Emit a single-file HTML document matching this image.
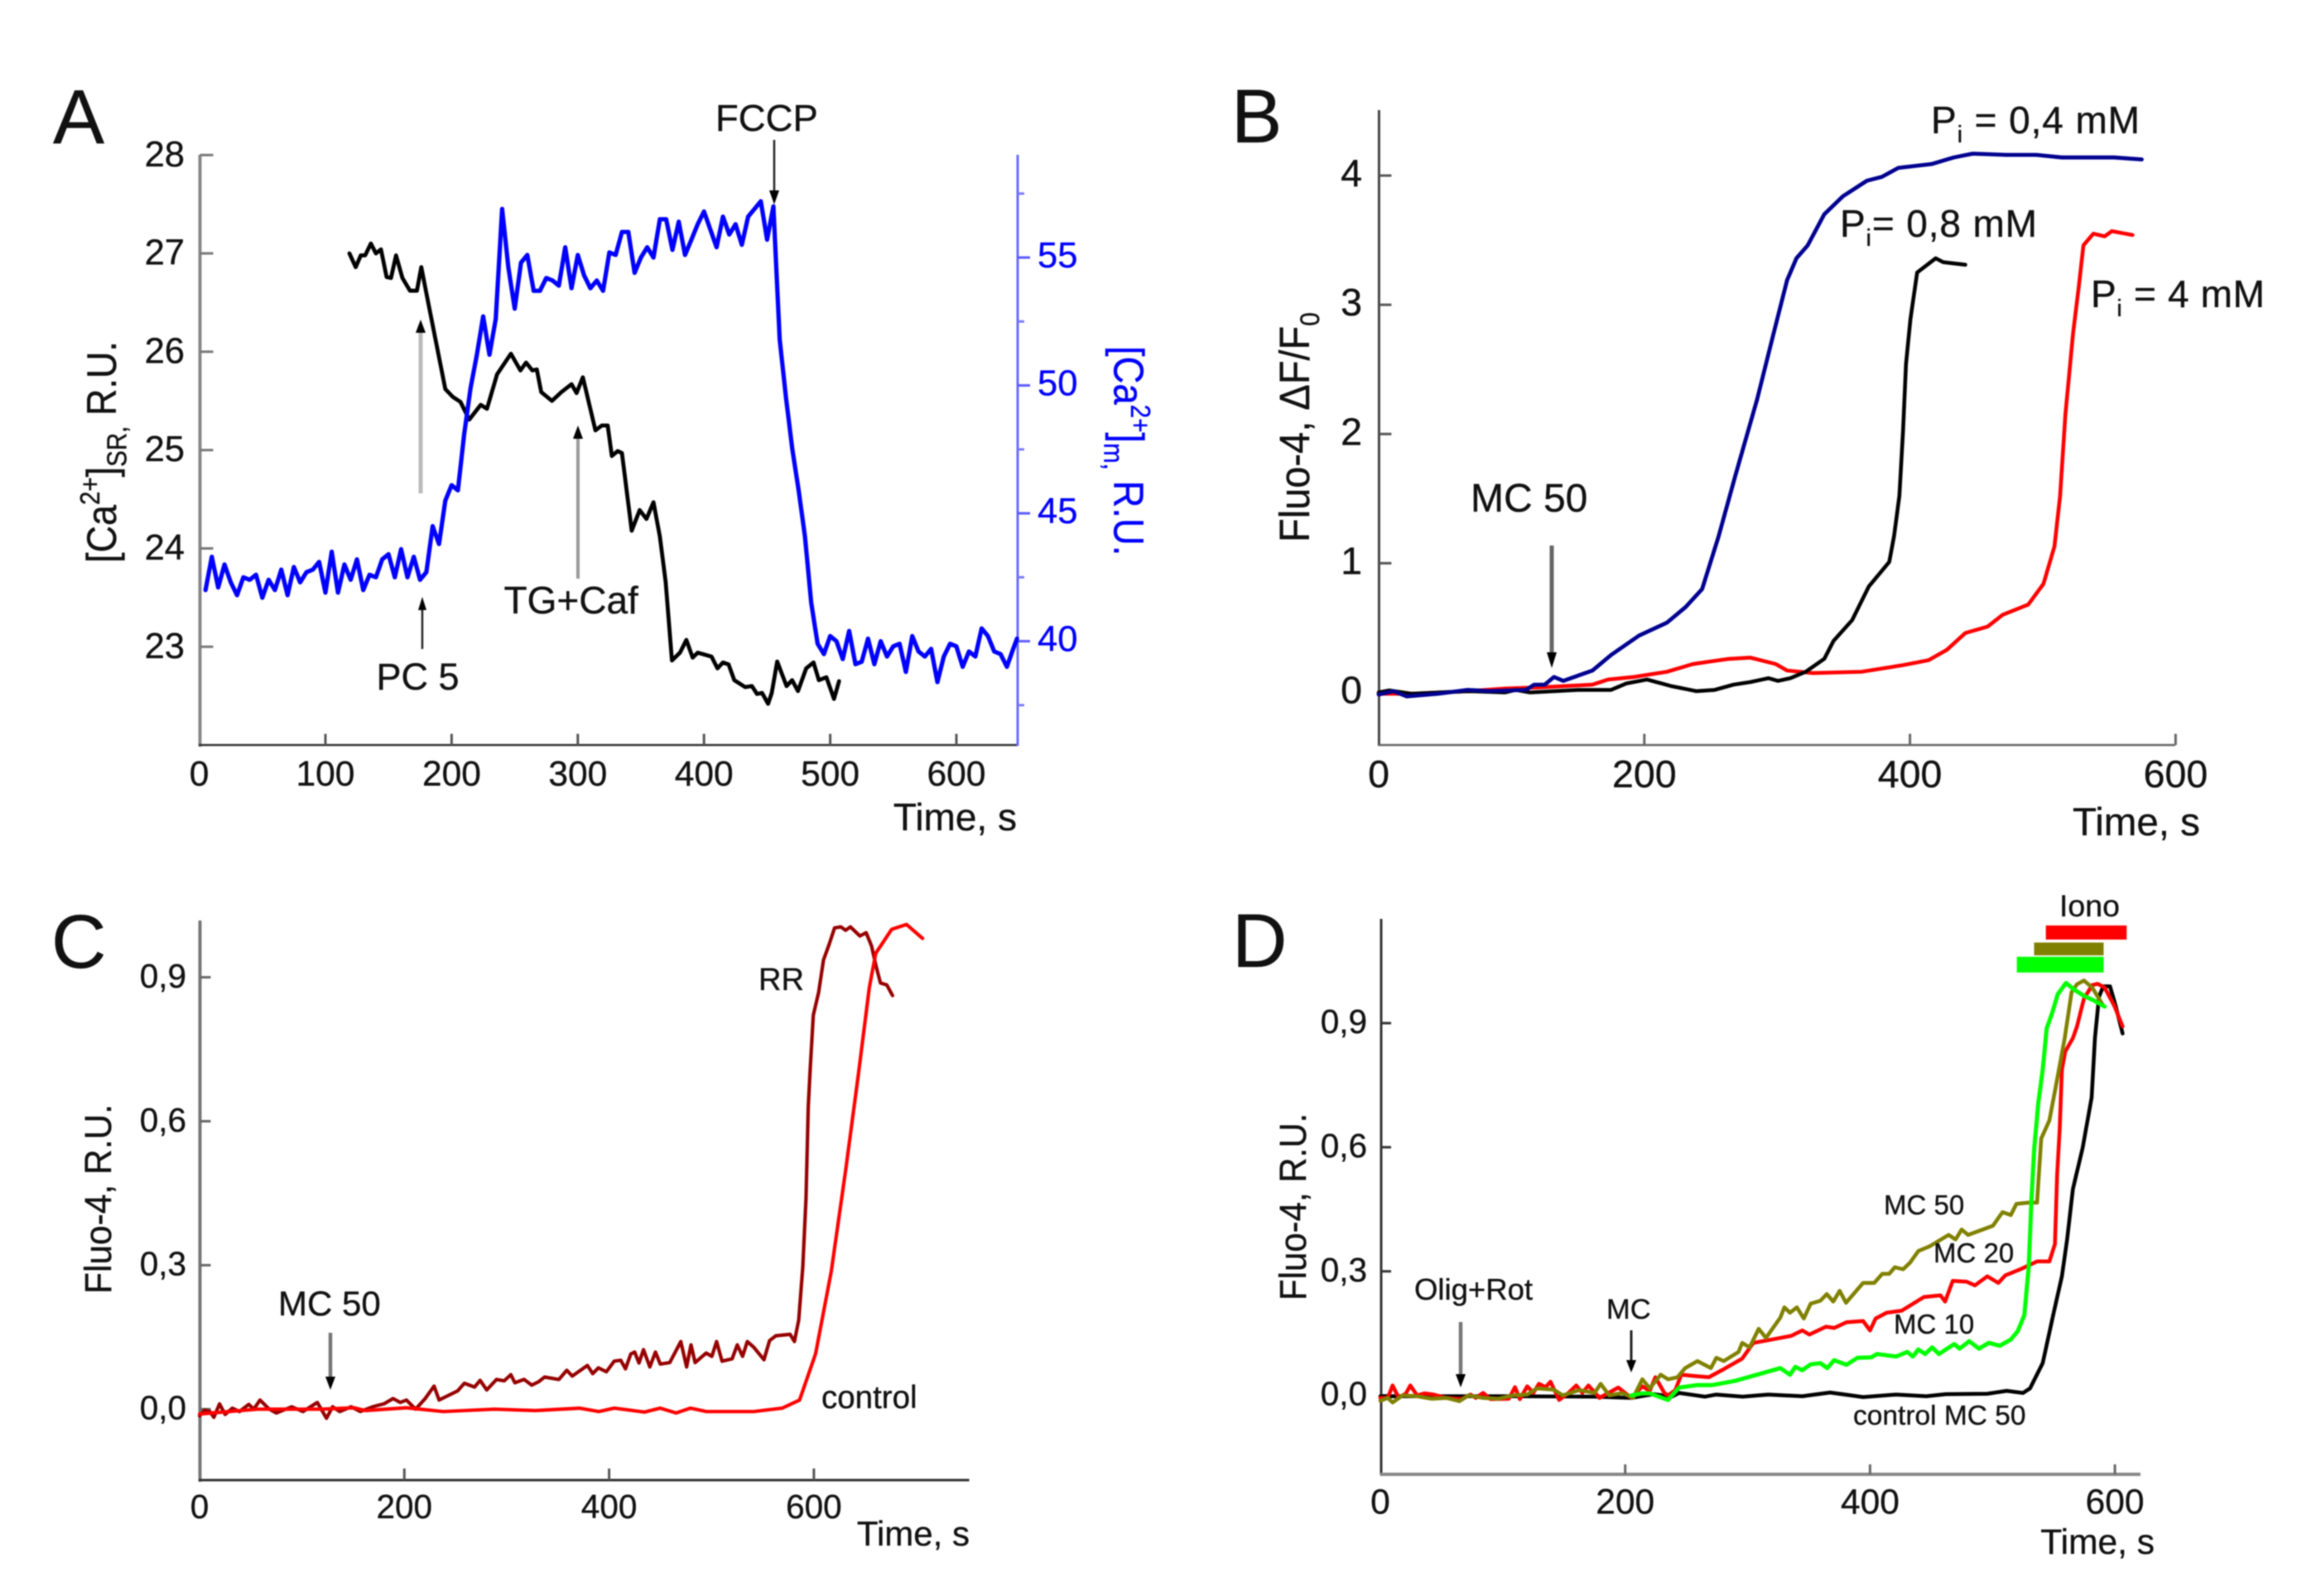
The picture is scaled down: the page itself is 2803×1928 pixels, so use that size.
<!DOCTYPE html>
<html lang="en">
<head>
<meta charset="utf-8">
<title>Calcium traces, panels A to D</title>
<style>
html,body{margin:0;padding:0;background:#fff;width:2803px;height:1928px;overflow:hidden}
svg{display:block;filter:blur(0.8px)}
text{font-family:"Liberation Sans",Arial,sans-serif;fill:#111;stroke:#111;stroke-width:0.35px}
</style>
</head>
<body>
<svg id="figure" xmlns="http://www.w3.org/2000/svg" width="2803" height="1928" viewBox="0 0 2803 1928">
<rect width="2803" height="1928" fill="#fff"/>

<text x="64" y="173" font-size="93">A</text>
<text x="1487" y="172" font-size="92">B</text>
<text x="62" y="1169" font-size="92">C</text>
<text x="1488" y="1168" font-size="92">D</text>

<g id="plots"></g>

<text transform="translate(140,680) rotate(-90) scale(1,1.12)" font-size="45">[Ca<tspan font-size="29.5" dy="-18">2+</tspan><tspan font-size="45" dy="18">]</tspan><tspan font-size="29.5" dy="11">SR,</tspan><tspan font-size="45" dy="-11"> R.U.</tspan></text>
<text transform="translate(1345.7,418) rotate(90) scale(1,1.12)" font-size="45.5" style="fill:#0000ff;stroke:#0000ff">[Ca<tspan font-size="29.5" dy="-18" style="fill:#0000ff;stroke:#0000ff">2+</tspan><tspan font-size="45.5" dy="18" style="fill:#0000ff;stroke:#0000ff">]</tspan><tspan font-size="29.5" dy="11" style="fill:#0000ff;stroke:#0000ff">m,</tspan><tspan font-size="45.5" dy="-11" style="fill:#0000ff;stroke:#0000ff"> R.U.</tspan></text>
<text x="1228" y="1003" font-size="46" text-anchor="end">Time, s</text>
<text x="864" y="158" font-size="45.5">FCCP</text>
<text x="608.5" y="741" font-size="46">TG+Caf</text>
<text x="454.5" y="833" font-size="45">PC 5</text>

<g><line x1="935" y1="169" x2="935" y2="232" stroke="#222" stroke-width="2.5"/><polygon points="929,230 941,230 935,247" fill="#000"/></g>
<g><line x1="698" y1="699" x2="698" y2="528" stroke="#999" stroke-width="4"/><polygon points="692,530 704,530 698,514" fill="#000"/></g>
<g><line x1="510" y1="784" x2="510" y2="735" stroke="#222" stroke-width="2.5"/><polygon points="505,737 515,737 510,721" fill="#000"/></g>
<g><line x1="508" y1="596" x2="508" y2="400" stroke="#bbb" stroke-width="5"/><polygon points="502,402 514,402 508,386" fill="#000"/></g>

<text transform="translate(1581,655) rotate(-90) scale(1,1.08)" font-size="47">Fluo-4, ΔF/F<tspan font-size="30" dy="11">0</tspan></text>
<text x="2503" y="1009" font-size="47.5">Time, s</text>
<text x="1776" y="618" font-size="48">MC 50</text>
<text x="2332" y="161" font-size="46" textLength="252">P<tspan font-size="29" dy="11">i</tspan><tspan dy="-11"> = 0,4 mM</tspan></text>
<text x="2222" y="286" font-size="46" textLength="238">P<tspan font-size="29" dy="11">i</tspan><tspan dy="-11">= 0,8 mM</tspan></text>
<text x="2525" y="371" font-size="46" textLength="210">P<tspan font-size="29" dy="11">i</tspan><tspan dy="-11"> = 4 mM</tspan></text>
<g><line x1="1874" y1="659" x2="1874" y2="790" stroke="#666" stroke-width="5"/><polygon points="1868,788 1880,788 1874,807" fill="#000"/></g>

<text transform="translate(134,1563) rotate(-90) scale(1,1.07)" font-size="42.5">Fluo-4, R.U.</text>
<text x="1171" y="1867" font-size="42" text-anchor="end">Time, s</text>
<text x="336" y="1589" font-size="42">MC 50</text>
<text x="916" y="1196" font-size="38">RR</text>
<text x="992" y="1701" font-size="38.5">control</text>
<g><line x1="399" y1="1610" x2="399" y2="1665" stroke="#777" stroke-width="4.5"/><polygon points="393,1663 405,1663 399,1679" fill="#000"/></g>

<text transform="translate(1577,1571) rotate(-90) scale(1,1.08)" font-size="42">Fluo-4, R.U.</text>
<text x="2602" y="1877" font-size="42.5" text-anchor="end">Time, s</text>
<text x="1708" y="1570" font-size="36.5">Olig+Rot</text>
<text x="1940" y="1593" font-size="34.5">MC</text>
<text x="2487" y="1107" font-size="37.5">Iono</text>
<text x="2275" y="1467" font-size="33">MC 50</text>
<text x="2335" y="1525" font-size="33">MC 20</text>
<text x="2287" y="1611" font-size="33">MC 10</text>
<text x="2238" y="1721" font-size="33.5">control MC 50</text>
<g><line x1="1764" y1="1597" x2="1764" y2="1662" stroke="#777" stroke-width="4.5"/><polygon points="1758,1660 1770,1660 1764,1676" fill="#000"/></g>
<g><line x1="1970" y1="1607" x2="1970" y2="1645" stroke="#222" stroke-width="3"/><polygon points="1964,1643 1976,1643 1970,1658" fill="#000"/></g>
</svg>

<script>
/* ---------- Panel A ---------- */
const aXTicks = [100, 200, 300, 400, 500, 600];
const aXLabels = [0, 100, 200, 300, 400, 500, 600];
const aLeftTicks = [23, 24, 25, 26, 27, 28];
const aRightTicks = [40, 45, 50, 55];
const aRightMinorTicks = [37.5, 42.5, 47.5, 52.5, 57.5];
const aBlueTime = [5,10,15,20,25,30,35,40,45,50,55,60,65,70,75,80,85,90,95,100,105,110,115,120,125,130,135,140,145,150,155,160,165,170,175,180,185,190,195,200,205,210,215,220,225,230,235,240,245,250,255,260,265,270,275,280,285,290,295,300,305,310,315,320,325,330,335,340,345,350,355,360,365,370,375,380,385,390,395,400,405,410,415,420,425,430,435,440,445,450,455,460,465,470,475,480,485,490,495,500,505,510,515,520,525,530,535,540,545,550,555,560,565,570,575,580,585,590,595,600,605,610,615,620,625,630,635,640,645,648];
const aBlueValues = [42.0,43.3,42.1,43.0,42.3,41.8,42.5,42.4,42.6,41.7,42.4,42.0,42.8,41.8,42.9,42.3,42.7,42.8,43.1,41.9,43.5,41.9,43.0,42.4,43.2,42.0,42.6,42.5,43.2,43.4,42.5,43.6,42.5,43.3,42.4,42.7,44.5,43.8,45.5,46.1,45.9,48.1,49.9,51.2,52.7,51.2,52.6,56.9,54.6,53.0,54.8,55.1,53.7,53.7,54.2,54.1,53.9,55.4,53.8,55.1,54.3,53.8,54.1,53.7,55.2,55.1,56.0,56.0,54.4,55.0,55.4,55.0,56.5,56.5,55.3,56.4,55.1,55.7,56.3,56.8,56.1,55.4,56.6,55.9,56.3,55.5,56.6,56.9,57.2,55.7,57.0,51.8,49.5,47.5,45.9,44.1,41.5,39.9,39.5,40.2,40.0,39.3,40.4,39.1,39.2,40.1,39.1,40.0,39.4,39.8,39.9,38.8,40.2,39.6,39.4,39.7,38.4,39.4,39.9,39.8,39.0,39.6,39.4,40.5,40.2,39.6,39.5,39.0,39.7,40.1];
const aBlackTime = [119,124,128,131.5,136,140,144,148.5,152,156,161,167,172.5,176,180.4,195,201,207,214,223,228,236,247,254.5,259,264,267.5,271,279.5,287,295,299,304,314,319,323.7,327,331.6,335,342.7,349,354.4,360,365,369.6,374.6,381,386,391,395,406,410.7,415,419.5,424,432.6,438,442,446,450.8,453.7,458,465.4,469.8,474.5,481,486.8,491,497,503,507];
const aBlackValues = [27.0,26.86,26.98,26.98,27.1,27.0,27.04,26.76,26.75,26.98,26.75,26.62,26.62,26.86,26.57,25.62,25.54,25.49,25.31,25.46,25.42,25.77,25.98,25.81,25.89,25.81,25.82,25.59,25.5,25.59,25.67,25.58,25.74,25.2,25.25,25.25,24.94,24.99,24.97,24.18,24.39,24.3,24.47,24.12,23.66,22.86,22.94,23.07,22.89,22.94,22.9,22.78,22.84,22.82,22.66,22.59,22.6,22.52,22.53,22.42,22.53,22.85,22.6,22.66,22.55,22.78,22.84,22.66,22.69,22.47,22.65];

/* ---------- Panel B ---------- */
const bXTicks = [200, 400, 600];
const bXLabels = [0, 200, 400, 600];
const bYTicks = [0, 1, 2, 3, 4];
const bBlueTime = [0,11,21,44.5,67,83.5,111,117,125,132,139,161,175,196,217,231,243.5,256,268.6,285,296.4,307.5,314.5,323,335.5,349.5,367.6,378.8,391.4,416.6,433,447.3,472.5,495,514.4,539.6,553.6,574.5];
const bBlueValues = [-0.016,0.01,-0.03,-0.01,0.02,0.01,0.02,0.06,0.06,0.12,0.09,0.17,0.29,0.44,0.54,0.66,0.80,1.21,1.68,2.27,2.74,3.19,3.36,3.46,3.70,3.84,3.96,3.99,4.06,4.09,4.14,4.17,4.16,4.16,4.14,4.14,4.14,4.125];
const bBlackTime = [0,8,25,67,95,103,114,150,175,186.5,202,220,239,253,267,279.6,293.6,300.6,310,321.5,335.5,342.5,356.5,369,384.4,388,392,394.8,397,400.4,405.4,419.4,425,441.7];
const bBlackValues = [0,0.016,-0.01,0.01,0,0.02,0,0.02,0.02,0.07,0.1,0.05,0.01,0.02,0.06,0.08,0.11,0.09,0.11,0.16,0.26,0.40,0.56,0.82,1.01,1.21,1.52,2.03,2.54,2.89,3.25,3.36,3.33,3.31];
const bRedTime = [0,28,67,95,122,161,172.6,192,217,236.6,250,264,279.6,299,307.5,327,363.5,394,414,427.8,441.7,458.5,469.7,489,500.5,508.8,513,517,522.8,527,530.6,538,546.6,552,567.5];
const bRedValues = [-0.01,-0.01,0.01,0.03,0.04,0.06,0.1,0.12,0.16,0.22,0.24,0.26,0.27,0.22,0.17,0.15,0.16,0.21,0.25,0.33,0.46,0.51,0.60,0.68,0.84,1.13,1.52,2.15,2.78,3.13,3.46,3.55,3.53,3.57,3.54];

/* ---------- Panel C ---------- */
const cXTicks = [200, 400, 600];
const cXLabels = [0, 200, 400, 600];
const cYTicks = [0, 0.3, 0.6, 0.9];
const cYLabels = ['0,0', '0,3', '0,6', '0,9'];
const cRRTime = [0,5,10,14,19.5,25,32,39,48,53,59,68,75,90,101,115,124,130,137,148,157,169,180,189,196,202,211,220,229,234,252,258.6,268.6,274,280.5,290,297.5,304,308,317,324.5,331,337,351,358.7,364,378.8,384,389.6,397.3,405,411.3,416,421.2,425,429.2,433.6,439.8,445.3,450,459.2,470,475.7,480,484,494.8,500.4,505,510.3,520.2,525.2,530.4,535,541.3,551.2,556.7,563,576.8,581,585.2,589.2,592.3,594.5,596.4,599.4,604.7,609.4,615,620.2,626.4,631,635.7,645,651,656.4,660.4,665,671.2,676.8];
const cRRValues = [-0.014,-0.002,-0.005,-0.017,0.011,-0.011,0.002,-0.005,0.01,0,0.019,0,-0.008,0.005,-0.005,0.014,-0.019,0.005,-0.005,0.005,-0.005,0.005,0.011,0.022,0.014,0.019,0,0.021,0.048,0.019,0.038,0.054,0.046,0.06,0.04,0.062,0.059,0.072,0.055,0.062,0.05,0.057,0.067,0.062,0.081,0.069,0.091,0.074,0.086,0.078,0.10,0.102,0.084,0.115,0.119,0.096,0.124,0.088,0.119,0.094,0.097,0.141,0.088,0.134,0.097,0.117,0.11,0.141,0.10,0.105,0.134,0.11,0.141,0.129,0.103,0.143,0.153,0.156,0.141,0.186,0.296,0.439,0.63,0.707,0.821,0.869,0.936,0.969,1.003,1.005,0.998,1.005,0.986,0.993,0.965,0.926,0.888,0.884,0.862];
const cControlTime = [0,57,119,151,162,202,238,288,328,371,390,405,434.5,450,465.4,479.4,495,541.3,569,586,601.6,617,631,643.4,654.2,660.4,676,690.5,706.2];
const cControlValues = [-0.01,0,0,0.003,-0.003,0.003,-0.005,0,-0.003,0.002,-0.005,0.002,-0.006,0.002,-0.008,0.002,-0.005,-0.005,0.002,0.019,0.115,0.287,0.497,0.697,0.879,0.95,1.0,1.01,0.981];

/* ---------- Panel D ---------- */
const dXTicks = [200, 400, 600];
const dXLabels = [0, 200, 400, 600];
const dYTicks = [0, 0.3, 0.6, 0.9];
const dYLabels = ['0,0', '0,3', '0,6', '0,9'];
const dBarStart = [543.6, 534, 519.9];
const dBarEnd = [609.6, 590.8, 590.8];
const dBlackTime = [0,108,175,205,223,238,244,265,274,296,317,344.7,367.3,394.3,421.4,446,462,495.8,511.6,525,530.7,541,550,556.7,561,565.7,573.6,581,583.7,587,590.5,596,600.6,606.3];
const dBlackValues = [-0.002,-0.002,-0.003,-0.006,0.003,-0.003,0.006,-0.003,0.002,-0.003,0.002,-0.002,0.007,-0.004,0.002,-0.002,0.003,0.004,0.011,0.006,0.017,0.078,0.2,0.288,0.377,0.499,0.598,0.72,0.864,0.964,0.989,0.989,0.942,0.875];
const dGreenTime = [205,214,220,235,244,259,271,289.6,307.7,326.7,334.6,339,344.7,351.5,359.4,365,370.7,380.8,389.8,401,405.6,421.4,430.4,435,439.4,445,450.7,456.3,468.7,473.2,481,489,497,506,515,520.6,526,529.6,531.9,534.1,537.5,541,544.3,548.8,553.3,560,566.8,574.7,582.6,591.6];
const dGreenValues = [0,0.005,0.005,-0.011,0.019,0.025,0.025,0.035,0.05,0.066,0.05,0.069,0.061,0.075,0.078,0.066,0.085,0.074,0.091,0.092,0.1,0.094,0.105,0.094,0.111,0.1,0.116,0.1,0.124,0.113,0.131,0.113,0.127,0.12,0.135,0.155,0.194,0.31,0.477,0.598,0.709,0.787,0.887,0.925,0.97,0.997,0.981,0.966,0.955,0.94];
const dRedTime = [0,6,10,15,21,24.5,30,36,43.5,54,66,73.7,78,84,90,105,110,114,120,125,129.5,135,139,146,153.7,160,165,170,179,194.4,205,214,220,224.6,232,235,241,245.8,256,268.4,279,295.6,304.7,326.7,335.7,344.7,350.4,364,370.7,380.8,394.3,400,404.5,413.5,425.9,444,457.5,461.3,467.6,478.9,485.6,495.8,504.8,510.4,522.8,536.4,546.5,551,552.8,554.9,556.7,559.4,565.7,569,574.7,581.5,586,591.6,599.5,606.3];
const dRedValues = [-0.006,-0.006,0.024,-0.006,0.005,0.024,0,0.005,0.002,-0.006,-0.009,0.002,-0.006,0.006,-0.009,-0.008,0.02,-0.009,0.022,0.006,0.028,0.02,0.033,-0.011,0.006,0.024,0.006,0.024,-0.006,0.019,-0.006,0.022,0.011,0.044,0.006,0,0.013,0.05,0.047,0.044,0.061,0.089,0.127,0.139,0.144,0.157,0.147,0.166,0.163,0.177,0.18,0.157,0.186,0.2,0.205,0.238,0.242,0.227,0.277,0.275,0.266,0.288,0.272,0.29,0.305,0.324,0.324,0.366,0.532,0.643,0.787,0.831,0.864,0.892,0.959,0.992,0.995,0.986,0.942,0.892];
const dOliveTime = [0,6,10,18,30,42,54,64.6,72,84,96,108,120,128,141.6,149,162.7,175,180,187,197.5,206.5,214,220,229,235,242.7,249,259,270,274.5,280.5,292.6,295.6,301.6,309,315,326.7,330,334.6,340.2,345.9,351.5,359.4,364.6,370,375.2,380.4,394.3,403.4,410,415.7,420.3,427,432.7,439.4,448.4,464.2,469.9,474.8,480,500.3,508.2,515,519.5,529.6,536.4,539.8,546.5,552.2,559,564.6,569,574.7,581.5,590.5];
const dOliveValues = [-0.013,-0.006,-0.017,0,-0.002,-0.008,-0.006,-0.014,0,-0.006,-0.008,0,0.002,0.017,0.014,0,0.013,0.006,0.028,0,0.006,-0.006,0.039,0.017,0.05,0.039,0.044,0.066,0.083,0.066,0.091,0.083,0.105,0.127,0.116,0.161,0.139,0.188,0.213,0.2,0.213,0.186,0.222,0.229,0.245,0.227,0.253,0.224,0.272,0.272,0.294,0.294,0.31,0.305,0.321,0.349,0.36,0.388,0.377,0.401,0.388,0.41,0.443,0.436,0.463,0.466,0.466,0.621,0.665,0.754,0.864,0.975,0.994,1.003,0.986,0.942];

/* ---------- Axis functions ---------- */
const axX = t => 240.6 + 1.524 * t;
const axYLeft = v => 781.3 - (v - 23) * 118.8;
const axYRight = v => 774.6 - (v - 40) * 30.9;
const bxX = t => 1665 + 1.604 * t;
const bxY = v => 836.5 - v * 156.1;
const cxX = t => 241 + 1.2365 * t;
const cxY = v => 1702.3 - v * 579.7;
const dxX = t => 1667 + 1.4785 * t;
const dxY = v => 1685.7 - v * 499.7;

/* ---------- Drawing ---------- */
const SVG_NS = 'http://www.w3.org/2000/svg';
const plots = document.getElementById('plots');

function shape(tag, props) {
  const el = document.createElementNS(SVG_NS, tag);
  for (const key in props) el.setAttribute(key, props[key]);
  plots.appendChild(el);
  return el;
}

function drawAxisLine(name, x1, y1, x2, y2, color, width) {
  const el = shape('line', {x1, y1, x2, y2, stroke: color, 'stroke-width': width});
  
  
}

function drawXTicks(name, values, xFn, yBase, length, color) {
  values.forEach(v => {
    const el = shape('line', {x1: xFn(v), x2: xFn(v), y1: yBase, y2: yBase - length, stroke: color, 'stroke-width': 3});
    
    
  });
}

function drawYTicks(name, values, yFn, xBase, length, color) {
  values.forEach(v => {
    const el = shape('line', {x1: xBase, x2: xBase + length, y1: yFn(v), y2: yFn(v), stroke: color, 'stroke-width': 3});
    
    
  });
}

function drawXLabels(name, values, xFn, baseline, size) {
  values.forEach(v => {
    const el = shape('text', {x: xFn(v), y: baseline, 'font-size': size, 'text-anchor': 'middle'});
    el.textContent = String(v);
    
    
  });
}

function drawYLabels(name, values, labels, yFn, x, offset, size, anchor, color) {
  values.forEach((v, i) => {
    const el = shape('text', {x: x, y: yFn(v) + offset, 'font-size': size, 'text-anchor': anchor, style: 'fill:' + color + ';stroke:' + color});
    el.textContent = labels[i];
    
    
  });
}

function drawSeries(name, times, values, xFn, yFn, color, width) {
  const d = times.map((t, i) => (i ? 'L' : 'M') + xFn(t).toFixed(1) + ' ' + yFn(values[i]).toFixed(1)).join('');
  const el = shape('path', {d: d, fill: 'none', stroke: color, 'stroke-width': width, 'stroke-linejoin': 'round', 'stroke-linecap': 'round'});
  
  
}

/* Panel A */
drawAxisLine('a-left-axis', 241.5, 187, 241.5, 902, '#888', 4);
drawAxisLine('a-bottom-axis', 240, 900, 1229, 900, '#333', 2.5);
drawAxisLine('a-right-axis', 1229, 187, 1229, 901, '#6a6aff', 3);
drawXTicks('a-x-tick', aXTicks, axX, 900, 13.5, '#555');
drawYTicks('a-left-tick', aLeftTicks, axYLeft, 241.5, 16, '#777');
drawYTicks('a-right-tick', aRightTicks, axYRight, 1229, 15, '#5a5aff');
drawYTicks('a-right-minor-tick', aRightMinorTicks, axYRight, 1229, 8, '#7a7aff');
drawXLabels('a-x-tick-label', aXLabels, axX, 949, 42.5);
drawYLabels('a-left-tick-label', aLeftTicks, aLeftTicks.map(String), axYLeft, 223, 13.5, 43.5, 'end', '#111');
drawYLabels('a-right-tick-label', aRightTicks, aRightTicks.map(String), axYRight, 1253, 12, 43.5, 'start', '#0000ff');
drawSeries('a-series-sr-calcium', aBlackTime, aBlackValues, axX, axYLeft, '#000', 4.8);
drawSeries('a-series-matrix-calcium', aBlueTime, aBlueValues, axX, axYRight, '#0000ff', 5.2);

/* Panel B */
drawAxisLine('b-y-axis', 1665.4, 133, 1665.4, 901, '#444', 3);
drawAxisLine('b-x-axis', 1665, 900, 2627, 900, '#666', 2.5);
drawXTicks('b-x-tick', bXTicks, bxX, 900, 13.5, '#666');
drawYTicks('b-y-tick', bYTicks, bxY, 1665.4, 15, '#555');
drawXLabels('b-x-tick-label', bXLabels, bxX, 951, 46.5);
drawYLabels('b-y-tick-label', bYTicks, bYTicks.map(String), bxY, 1645, 13, 46.5, 'end', '#111');
drawSeries('b-series-pi-4', bRedTime, bRedValues, bxX, bxY, '#ff0000', 4.6);
drawSeries('b-series-pi-08', bBlackTime, bBlackValues, bxX, bxY, '#000', 4.6);
drawSeries('b-series-pi-04', bBlueTime, bBlueValues, bxX, bxY, '#000090', 4.8);

/* Panel C */
drawAxisLine('c-y-axis', 241.5, 1112, 241.5, 1790, '#777', 4);
drawAxisLine('c-x-axis', 240, 1788, 1170.5, 1788, '#333', 3);
drawXTicks('c-x-tick', cXTicks, cxX, 1788, 14, '#555');
drawYTicks('c-y-tick', cYTicks, cxY, 241.5, 13, '#666');
drawXLabels('c-x-tick-label', cXLabels, cxX, 1834, 40.5);
drawYLabels('c-y-tick-label', cYTicks, cYLabels, cxY, 225, 12.3, 40.5, 'end', '#111');
drawSeries('c-series-rr', cRRTime, cRRValues, cxX, cxY, '#960000', 4.2);
drawSeries('c-series-control', cControlTime, cControlValues, cxX, cxY, '#ff0000', 4.2);

/* Panel D */
drawAxisLine('d-y-axis', 1668, 1110, 1668, 1782, '#333', 3);
drawAxisLine('d-x-axis', 1667, 1781, 2585, 1781, '#888', 4);
drawXTicks('d-x-tick', dXTicks, dxX, 1781, 12, '#666');
drawYTicks('d-y-tick', dYTicks, dxY, 1668, 12, '#333');
drawXLabels('d-x-tick-label', dXLabels, dxX, 1828.5, 42.5);
drawYLabels('d-y-tick-label', dYTicks, dYLabels, dxY, 1651, 12, 40.5, 'end', '#111');
drawSeries('d-series-control-mc50', dBlackTime, dBlackValues, dxX, dxY, '#000', 4.6);
drawSeries('d-series-mc20', dRedTime, dRedValues, dxX, dxY, '#ff0000', 4.6);
drawSeries('d-series-mc50', dOliveTime, dOliveValues, dxX, dxY, '#808000', 4.6);
drawSeries('d-series-mc10', dGreenTime, dGreenValues, dxX, dxY, '#00ff00', 5);

const dBarColors = ['#ff0000', '#808000', '#00ff00'];
const dBarTops = [1118, 1138.6, 1155.8];
const dBarHeights = [17, 15.5, 19];
dBarStart.forEach((s, i) => {
  const el = shape('rect', {x: dxX(s), y: dBarTops[i], width: dxX(dBarEnd[i]) - dxX(s), height: dBarHeights[i], fill: dBarColors[i]});
  
  
});
</script>
</body>
</html>
